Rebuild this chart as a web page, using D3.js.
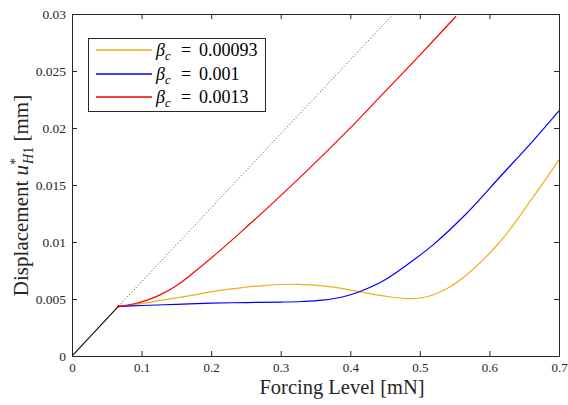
<!DOCTYPE html>
<html>
<head>
<meta charset="utf-8">
<script src="https://cdn.jsdelivr.net/npm/d3@7"></script>
<style>
  html, body { margin: 0; padding: 0; background: #fff; }
  svg { display: block; }
  text { font-family: "Liberation Serif", "Times New Roman", serif; fill: #262626; }
</style>
</head>
<body>
<svg id="chart" width="568" height="405"></svg>
<script>
// ---- data ----
const xTicks = [0, 0.1, 0.2, 0.3, 0.4, 0.5, 0.6, 0.7];
const yTicks = [0, 0.005, 0.01, 0.015, 0.02, 0.025, 0.03];
const yTickLabels = ["0", "0.005", "0.01", "0.015", "0.02", "0.025", "0.03"];

const linearX = [0, 0.0667];
const linearY = [0, 0.00435];

const dottedX = [0.0667, 0.462];
const dottedY = [0.00435, 0.030];

const yellowX = [0.0667, 0.10, 0.13, 0.17, 0.208, 0.245, 0.28, 0.323, 0.376, 0.414, 0.4475, 0.483, 0.510, 0.543, 0.567, 0.615, 0.663, 0.70];
const yellowY = [0.00435, 0.0046, 0.0049, 0.0053, 0.00572, 0.006, 0.0062, 0.00629, 0.00605, 0.00563, 0.00527, 0.00503, 0.0052, 0.00606, 0.0071, 0.0100, 0.01395, 0.0172];

const blueX = [0.0667, 0.10, 0.15, 0.20, 0.25, 0.30, 0.33, 0.36, 0.39, 0.414, 0.4475, 0.486, 0.519, 0.567, 0.615, 0.663, 0.70];
const blueY = [0.00435, 0.00443, 0.00453, 0.00463, 0.00469, 0.00473, 0.00478, 0.0049, 0.0052, 0.00566, 0.0066, 0.0082, 0.00975, 0.0125, 0.0157, 0.0189, 0.0215];

const redX = [0.0667, 0.09, 0.11, 0.1265, 0.15, 0.1744, 0.208, 0.2415, 0.29, 0.342, 0.395, 0.4485, 0.50, 0.552];
const redY = [0.00435, 0.00458, 0.00494, 0.00536, 0.00616, 0.0073, 0.0090, 0.0108, 0.0135, 0.0165, 0.0197, 0.0231, 0.0264, 0.0298];

const seriesNames = ["0.00093", "0.001", "0.0013"];
const seriesColors = ["#EDB120", "#0000FF", "#FF0000"];

// ---- layout ----
const svg = d3.select("#chart");
const L = 72, R = 559, T = 14, B = 356;
const x = d3.scaleLinear().domain([0, 0.7]).range([L, R]);
const y = d3.scaleLinear().domain([0, 0.03]).range([B, T]);

const zip = (xs, ys) => xs.map((v, i) => [v, ys[i]]);
const smooth = d3.line().x(d => x(d[0])).y(d => y(d[1])).curve(d3.curveCatmullRom.alpha(0.5));
const straight = d3.line().x(d => x(d[0])).y(d => y(d[1]));

svg.append("defs").append("clipPath").attr("id", "clip")
  .append("rect").attr("x", L).attr("y", T).attr("width", R - L).attr("height", B - T);

const plot = svg.append("g").attr("clip-path", "url(#clip)");

plot.append("path").attr("d", straight(zip(dottedX, dottedY)))
  .attr("fill", "none").attr("stroke", "#333").attr("stroke-width", 0.9)
  .attr("stroke-dasharray", "1,2.2");

plot.append("path").attr("d", straight(zip(linearX, linearY)))
  .attr("fill", "none").attr("stroke", "#000").attr("stroke-width", 1.1);

const curves = [zip(yellowX, yellowY), zip(blueX, blueY), zip(redX, redY)];
curves.forEach((c, i) => {
  plot.append("path").attr("d", smooth(c))
    .attr("fill", "none").attr("stroke", seriesColors[i]).attr("stroke-width", 1.2);
});
plot.append("circle").attr("cx", x(redX[0])).attr("cy", y(redY[0])).attr("r", 1.4).attr("fill", "#FF0000");

// ---- axes ----
const axisColor = "#262626";
const tickLen = 5;

const gx = svg.append("g").attr("transform", `translate(0,${B})`)
  .call(d3.axisBottom(x).tickValues(xTicks).tickSizeInner(-tickLen).tickSizeOuter(0).tickPadding(7)
    .tickFormat(d => d === 0 ? "0" : d3.format(".1f")(d)));
const gxTop = svg.append("g").attr("transform", `translate(0,${T})`)
  .call(d3.axisTop(x).tickValues(xTicks).tickSizeInner(-tickLen).tickSizeOuter(0).tickFormat(""));
const gy = svg.append("g").attr("transform", `translate(${L},0)`)
  .call(d3.axisLeft(y).tickValues(yTicks).tickSizeInner(-tickLen).tickSizeOuter(0).tickPadding(6)
    .tickFormat((d, i) => yTickLabels[i]));
const gyR = svg.append("g").attr("transform", `translate(${R},0)`)
  .call(d3.axisRight(y).tickValues(yTicks).tickSizeInner(-tickLen).tickSizeOuter(0).tickFormat(""));

[gx, gxTop, gy, gyR].forEach(g => {
  g.selectAll("path.domain").attr("stroke", axisColor).attr("stroke-width", 1);
  g.selectAll(".tick line").attr("stroke", axisColor).attr("stroke-width", 1);
  g.selectAll(".tick text").attr("fill", axisColor)
    .style("font-family", "'Liberation Serif', serif").style("font-size", "13.5px");
});
gx.selectAll(".tick text").style("font-size", "13px");

// ---- axis labels ----
svg.append("text").attr("x", 342).attr("y", 393.5).attr("text-anchor", "middle")
  .style("font-size", "20.5px").text("Forcing Level [mN]");

const yl = svg.append("text").attr("transform", "translate(28,195.5) rotate(-90)")
  .attr("text-anchor", "middle").style("font-size", "21px");
yl.append("tspan").text("Displacement ");
yl.append("tspan").style("font-style", "italic").text("u");
yl.append("tspan").attr("dy", -8).style("font-size", "14px").text("*");
yl.append("tspan").attr("dx", -6).attr("dy", 13).style("font-size", "14px").style("font-style", "italic").text("H");
yl.append("tspan").style("font-size", "14px").text("1");
yl.append("tspan").attr("dy", -5).text(" [mm]");

// ---- legend ----
const lg = svg.append("g");
lg.append("rect").attr("x", 88.5).attr("y", 38.5).attr("width", 177).attr("height", 73)
  .attr("fill", "#fff").attr("stroke", axisColor).attr("stroke-width", 1);
const rowY = [50, 74, 97];
seriesNames.forEach((n, i) => {
  lg.append("line").attr("x1", 96).attr("x2", 152).attr("y1", rowY[i]).attr("y2", rowY[i])
    .attr("stroke", seriesColors[i]).attr("stroke-width", 1.3);
  const t = lg.append("text").attr("y", rowY[i] + 6).style("font-size", "18px").style("fill", "#000");
  t.append("tspan").attr("x", 156).style("font-style", "italic").text("β");
  t.append("tspan").attr("dy", 4).style("font-size", "12.5px").style("font-style", "italic").text("c");
  t.append("tspan").attr("x", 181).attr("dy", -4).text("=");
  t.append("tspan").attr("x", 199).text(n);
});
</script>
</body>
</html>
